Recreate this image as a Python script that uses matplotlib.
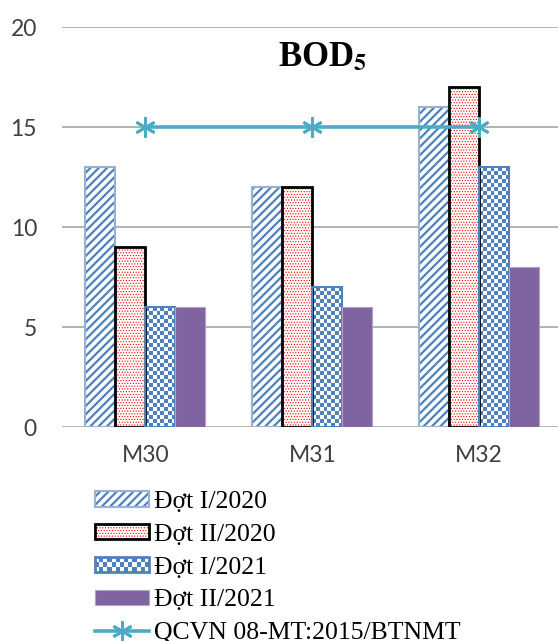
import numpy as np
import matplotlib
matplotlib.use("Agg")
import matplotlib.pyplot as plt
from matplotlib.colors import ListedColormap
from matplotlib.patches import Rectangle
from matplotlib.legend_handler import HandlerBase

# BOD5 at three monitoring points, four sampling rounds
stations = ["M30", "M31", "M32"]
series_labels = ["Đợt I/2020", "Đợt II/2020", "Đợt I/2021", "Đợt II/2021"]
dot1_2020 = [13, 12, 16]
dot2_2020 = [9, 12, 17]
dot1_2021 = [6, 7, 13]
dot2_2021 = [6, 6, 8]
qcvn_limit = [15, 15, 15]
qcvn_label = "QCVN 08-MT:2015/BTNMT"
yticks = [0, 5, 10, 15, 20]

BLUE = "#4f81bd"
LIGHT_BLUE = "#95b3d7"
PURPLE = "#8064a2"
TEAL = "#4bacc6"
CHECK_PX = 4  # checker cell size in pixels

STRIPES = dict(hatch="////", hatch_color=BLUE, edge=LIGHT_BLUE, lw=1.5, hlw=1.6)
DOTS = dict(hatch="......", hatch_color="red", edge="black", lw=2.0, hlw=0.5)


class HatchHandler(HandlerBase):
    """Legend key: hatch in one colour, outline in another."""
    def __init__(self, hatch, hatch_color, edge, lw, hlw):
        super().__init__()
        self.spec = (hatch, hatch_color, edge, lw, hlw)

    def create_artists(self, legend, orig_handle, xdescent, ydescent,
                       width, height, fontsize, trans):
        hatch, hcol, edge, lw, hlw = self.spec
        with plt.rc_context({"hatch.linewidth": hlw}):
            fill = Rectangle((-xdescent, -ydescent), width, height, fc="white",
                             ec=hcol, lw=0, hatch=hatch, transform=trans)
        outline = Rectangle((-xdescent, -ydescent), width, height, fc="none",
                            ec=edge, lw=lw, transform=trans)
        return [fill, outline]


class CheckerHandler(HandlerBase):
    """Legend key drawn as a small blue/white checkerboard."""
    def create_artists(self, legend, orig_handle, xdescent, ydescent,
                       width, height, fontsize, trans):
        x0, y0 = -xdescent, -ydescent
        nx, ny = 13, 3
        cw, ch = width / nx, height / ny
        arts = [Rectangle((x0, y0), width, height, fc="white", ec="none",
                          transform=trans)]
        for i in range(nx):
            for j in range(ny):
                if (i + j) % 2:
                    arts.append(Rectangle((x0 + i * cw, y0 + j * ch), cw, ch,
                                          fc=BLUE, ec="none", transform=trans))
        arts.append(Rectangle((x0, y0), width, height, fc="none", ec=BLUE,
                              lw=2, transform=trans))
        return arts


def hatched_bars(ax, xs, vals, width, spec, label):
    with plt.rc_context({"hatch.linewidth": spec["hlw"]}):
        ax.bar(xs, vals, width, color="white", edgecolor=spec["hatch_color"],
               hatch=spec["hatch"], linewidth=0, zorder=2)
    return ax.bar(xs, vals, width, color="none", edgecolor=spec["edge"],
                  linewidth=spec["lw"], zorder=3, label=label)


fig = plt.figure(figsize=(5.58, 6.41), dpi=100)
ax = fig.add_axes([62 / 558, 214 / 641, 1 - 62 / 558, 400 / 641])
ax.set_xlim(-0.5, 2.473)
ax.set_ylim(0, 20)

x = np.arange(len(stations))
w = 0.18

b1 = hatched_bars(ax, x - 1.5 * w, dot1_2020, w, STRIPES, series_labels[0])
b2 = hatched_bars(ax, x - 0.5 * w, dot2_2020, w, DOTS, series_labels[1])

# checkerboard bars: a clipped image inside each bar
b3 = ax.bar(x + 0.5 * w, dot1_2021, w, color="none", edgecolor=BLUE,
            linewidth=1.5, zorder=3, label=series_labels[2])
cmap = ListedColormap(["white", BLUE])
for p in b3.patches:
    (px0, py0), (px1, py1) = ax.transData.transform(
        [(p.get_x(), p.get_y()), (p.get_x() + p.get_width(), p.get_height())])
    nx = max(1, int(round((px1 - px0) / CHECK_PX)))
    ny = max(1, int(round((py1 - py0) / CHECK_PX)))
    grid = (np.add.outer(np.arange(ny), np.arange(nx)) % 2).astype(float)
    im = ax.imshow(grid, cmap=cmap, extent=(p.get_x(), p.get_x() + p.get_width(),
                                             0, p.get_height()),
                   origin="lower", aspect="auto", interpolation="nearest",
                   zorder=2)
    im.set_clip_path(p)
ax.set_xlim(-0.5, 2.473)
ax.set_ylim(0, 20)

b4 = ax.bar(x + 1.5 * w, dot2_2021, w, color=PURPLE, edgecolor="#b3a2c7",
            linewidth=0.8, zorder=3, label=series_labels[3])

line, = ax.plot(x, qcvn_limit, color=TEAL, linewidth=2.6, marker=(6, 2, 0),
                markersize=15, markeredgewidth=2, markeredgecolor=TEAL,
                zorder=4, label=qcvn_label)

for s in ax.spines.values():
    s.set_visible(False)
ax.set_yticks(yticks)
ax.yaxis.grid(True, color="#a6a6a6", linewidth=1.2)
ax.set_axisbelow(True)
ax.tick_params(axis="both", length=0, labelsize=16.5, labelcolor="#404040")
ax.tick_params(axis="y", pad=18)
ax.tick_params(axis="x", pad=13)
ax.set_xticks(x)
ax.set_xticklabels(stations)
for lbl in ax.get_xticklabels() + ax.get_yticklabels():
    lbl.set_family("Lato")

ax.text(0.525, 0.965, "BOD$_\\mathbf{5}$", transform=ax.transAxes,
        ha="center", va="top", fontsize=25, fontweight="bold",
        family="Liberation Serif", math_fontfamily="stix")

leg = fig.legend([b1, b2, b3, b4, line],
                 series_labels + [qcvn_label],
                 loc="upper left", bbox_to_anchor=(95 / 558, 1 - 491 / 641),
                 frameon=False, borderpad=0, borderaxespad=0,
                 handlelength=2.1, handleheight=0.55, handletextpad=0.2,
                 labelspacing=0.42,
                 prop={"family": "Liberation Serif", "size": 18.5},
                 handler_map={b1: HatchHandler(**STRIPES),
                              b2: HatchHandler(**DOTS),
                              b3: CheckerHandler()})

fig.savefig("out.png", dpi=100)
